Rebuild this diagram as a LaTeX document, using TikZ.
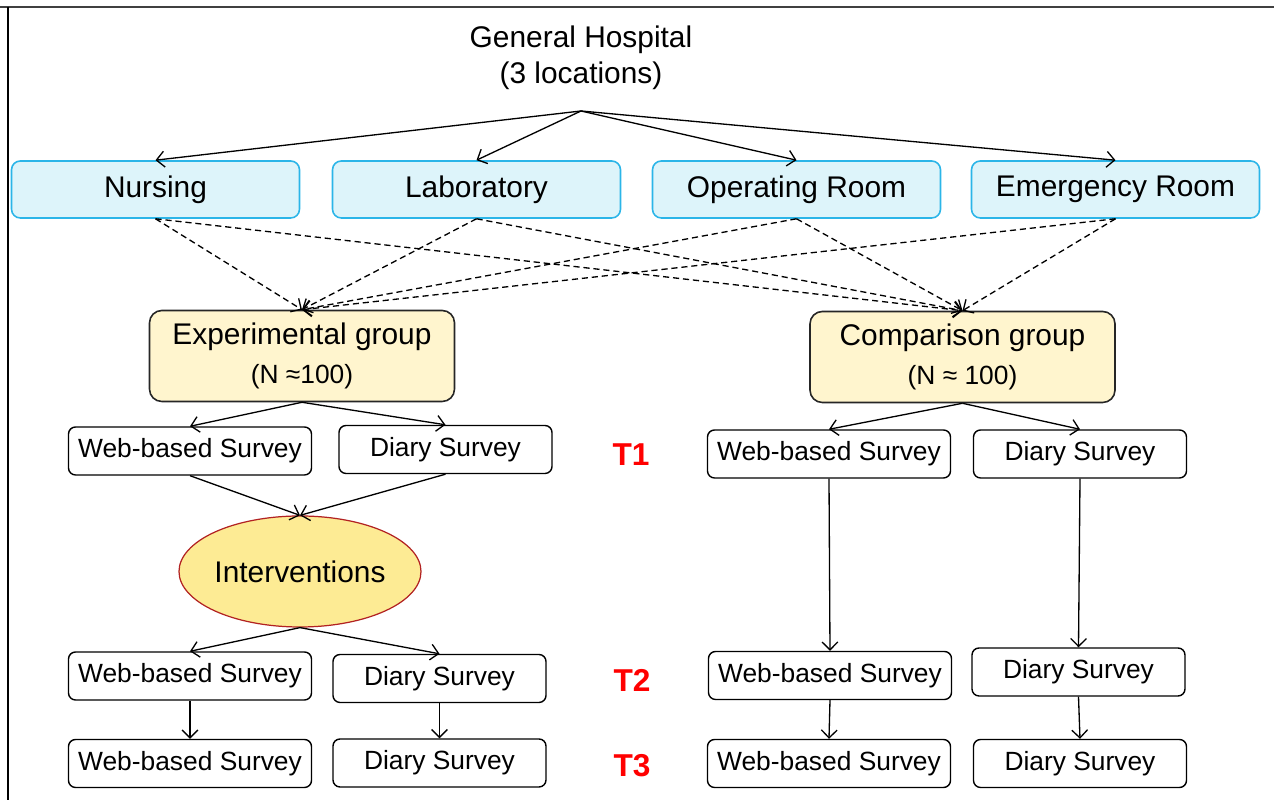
\documentclass[tikz,border=0pt]{standalone}
\usepackage{fontspec}
\setmainfont{Liberation Sans}
\usetikzlibrary{arrows.meta,shapes.geometric}

\definecolor{locfill}{HTML}{DDF4FA}
\definecolor{locdraw}{HTML}{2BB5E8}
\definecolor{grpfill}{HTML}{FFF5CE}
\definecolor{intfill}{HTML}{FDEB94}
\definecolor{intdraw}{HTML}{B22222}

\begin{document}
\begin{tikzpicture}[
    location/.style={rectangle, rounded corners=5pt, draw=locdraw, line width=0.9pt,
        fill=locfill, minimum width=5.76cm, minimum height=1.14cm,
        font=\fontsize{17}{20}\selectfont},
    group/.style={rectangle, rounded corners=7pt, draw=black!85, line width=0.9pt,
        fill=grpfill, minimum width=6.1cm, minimum height=1.82cm, align=center,
        font=\fontsize{17}{22}\selectfont},
    survey/.style={rectangle, rounded corners=4pt, draw=black, line width=0.8pt,
        minimum width=4.86cm, minimum height=0.96cm, inner sep=1pt,
        font=\fontsize{15}{18}\selectfont},
    diary/.style={survey, minimum width=4.26cm},
    intervention/.style={ellipse, draw=intdraw, line width=0.7pt, fill=intfill,
        minimum width=4.84cm, minimum height=2.22cm, inner sep=0pt,
        font=\fontsize{17}{20}\selectfont},
    wave/.style={text=red, font=\fontsize{18}{20}\selectfont\bfseries},
    edge/.style={line width=0.75pt, -{Straight Barb[length=4.5pt,width=9pt]}},
    link/.style={edge, dash pattern=on 3.5pt off 2.2pt}
]
    \useasboundingbox (0,0) rectangle (25.48,16);
    \draw[black!75, line width=1pt] (0,15.86) -- (25.48,15.86);
    \draw[black, line width=0.6pt] (0.16,15.86) -- (0.16,0);

    % hospital and its departments
    \node[align=center, font=\fontsize{17}{20.5}\selectfont] (gh) at (11.62,14.84)
        {General Hospital\\(3 locations)};
    \coordinate (top) at (11.62,13.78);
    \node[location] (nur) at (3.11,12.21) {Nursing};
    \node[location] (lab) at (9.53,12.21) {Laboratory};
    \node[location] (opr) at (15.93,12.21) {Operating Room};
    \node[location] (emr) at (22.31,12.21) {Emergency Room};

    % groups
    \node[group] (exp) at (6.04,8.88)
        {Experimental group\\{\fontsize{15}{18}\selectfont (N ≈100)}};
    \node[group] (cmp) at (19.25,8.86)
        {Comparison group\\{\fontsize{15}{18}\selectfont (N ≈ 100)}};

    % T1
    \node[survey] (ew1) at (3.80,6.98) {Web-based Survey};
    \node[diary]  (ed1) at (8.91,7.01) {Diary Survey};
    \node[survey] (cw1) at (16.58,6.92) {Web-based Survey};
    \node[diary]  (cd1) at (21.60,6.92) {Diary Survey};
    \node[wave] (t1) at (12.62,6.90) {T1};

    \node[intervention] (int) at (6.00,4.57) {Interventions};

    % T2
    \node[survey] (ew2) at (3.80,2.48) {Web-based Survey};
    \node[diary]  (ed2) at (8.79,2.43) {Diary Survey};
    \node[survey] (cw2) at (16.60,2.49) {Web-based Survey};
    \node[diary]  (cd2) at (21.57,2.56) {Diary Survey};
    \node[wave] (t2) at (12.64,2.40) {T2};

    % T3
    \node[survey] (ew3) at (3.80,0.73) {Web-based Survey};
    \node[diary]  (ed3) at (8.79,0.74) {Diary Survey};
    \node[survey] (cw3) at (16.58,0.73) {Web-based Survey};
    \node[diary]  (cd3) at (21.60,0.73) {Diary Survey};
    \node[wave] (t3) at (12.64,0.68) {T3};

    \draw[edge] (top) -- (nur.north);
    \draw[edge] (top) -- (lab.north);
    \draw[edge] (top) -- (opr.north);
    \draw[edge] (top) -- (emr.north);

    \foreach \d in {nur,lab,opr,emr} {
        \draw[link] (\d.south) -- (exp.north);
        \draw[link] (\d.south) -- (cmp.north);
    }

    \draw[edge] (exp.south) -- (ew1.north);
    \draw[edge] (exp.south) -- (ed1.north);
    \draw[edge] (cmp.south) -- (cw1.north);
    \draw[edge] (cmp.south) -- (cd1.north);
    \draw[edge] (ew1.south) -- (int.north);
    \draw[edge] (ed1.south) -- (int.north);
    \draw[edge] (int.south) -- (ew2.north);
    \draw[edge] (int.south) -- (ed2.north);
    \draw[edge] (cw1.south) -- (cw2.north);
    \draw[edge] (cd1.south) -- (cd2.north);
    \draw[edge] (ew2.south) -- (ew3.north);
    \draw[edge] (ed2.south) -- (ed3.north);
    \draw[edge] (cw2.south) -- (cw3.north);
    \draw[edge] (cd2.south) -- (cd3.north);
\end{tikzpicture}
\end{document}
